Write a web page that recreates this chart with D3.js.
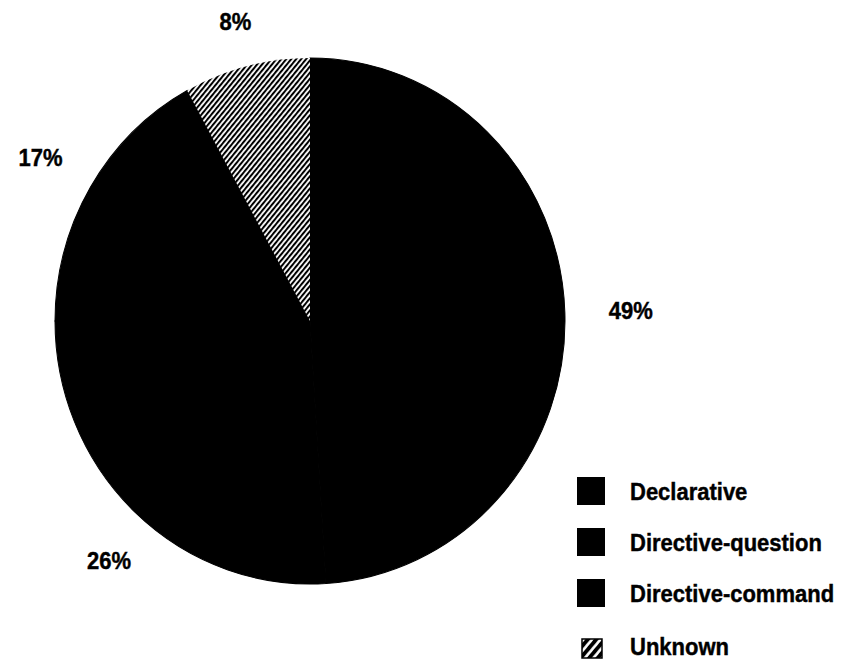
<!DOCTYPE html>
<html>
<head>
<meta charset="utf-8">
<script src="https://cdn.jsdelivr.net/npm/d3@7"></script>
<style>
  html, body { margin: 0; padding: 0; background: #fff; }
  svg { display: block; }
  text { font-family: "Liberation Sans", Arial, Helvetica, sans-serif; font-weight: bold; fill: #000; stroke: #000; stroke-width: 0.4px; }
</style>
</head>
<body>
<svg id="chart" width="847" height="663"></svg>
<script>
// Sentence types, share of utterances (%)
const categories = ["Declarative", "Directive-question", "Directive-command", "Unknown"];
const shares = [49, 26, 17, 8];
const percentLabels = ["49%", "26%", "17%", "8%"];

const W = 847, H = 663;
const cx = 310, cy = 321;      // pie centre
const rx = 255, ry = 263;      // slightly taller than wide
const labelRadius = [321, 307, 313, 300];
const labelTurn = [0, -0.04, 0, 0]; // small angular nudges (radians)
const textStretch = 1.12;           // lettering is a little tall

const svg = d3.select("#chart");
const defs = svg.append("defs");

// diagonal hatch for the "Unknown" slice
const hatch = defs.append("pattern")
  .attr("id", "hatch")
  .attr("patternUnits", "userSpaceOnUse")
  .attr("width", 3.8).attr("height", 10)
  .attr("patternTransform", "rotate(40)");
hatch.append("rect").attr("width", 3.8).attr("height", 10).attr("fill", "#fff");
hatch.append("rect").attr("width", 2.0).attr("height", 10).attr("fill", "#000");

// coarser hatch for the legend key
const hatchKey = defs.append("pattern")
  .attr("id", "hatchKey")
  .attr("patternUnits", "userSpaceOnUse")
  .attr("width", 6.5).attr("height", 10)
  .attr("patternTransform", "rotate(40)");
hatchKey.append("rect").attr("width", 6.5).attr("height", 10).attr("fill", "#000");
hatchKey.append("rect").attr("x", 2).attr("width", 2.6).attr("height", 10).attr("fill", "#fff");

const fills = ["#000", "#000", "#000", "url(#hatch)"];
const keyFills = ["#000", "#000", "#000", "url(#hatchKey)"];

const data = categories.map((c, i) => ({ name: c, value: shares[i], label: percentLabels[i], i }));

const pie = d3.pie().sort(null).value(d => d.value);
const arcs = pie(data);
const arc = d3.arc().innerRadius(0).outerRadius(rx);

const g = svg.append("g")
  .attr("transform", `translate(${cx},${cy}) scale(1,${ry / rx})`);

g.selectAll("path.slice")
  .data(arcs)
  .join("path")
  .attr("class", "slice")
  .attr("d", arc)
  .attr("fill", d => fills[d.data.i])
  // solid slices get a matching outline so no seam shows between them
  .attr("stroke", d => d.data.i === 3 ? "none" : "#000")
  .attr("stroke-width", 1);

// percentage labels outside the pie
const pct = svg.selectAll("g.pct")
  .data(arcs)
  .join("g")
  .attr("class", "pct")
  .attr("transform", d => {
    const a = (d.startAngle + d.endAngle) / 2 + labelTurn[d.data.i];
    const r = labelRadius[d.data.i];
    const x = cx + Math.sin(a) * r;
    const y = cy - Math.cos(a) * r * (ry / rx);
    return `translate(${x},${y}) scale(1,${textStretch})`;
  });
pct.append("text")
  .attr("dy", "0.36em")
  .attr("text-anchor", "middle")
  .attr("font-size", 22)
  .text(d => d.data.label);

// legend
const legend = svg.append("g").attr("transform", "translate(577,477)");
const rowGap = 51;
const rows = legend.selectAll("g.row")
  .data(data)
  .join("g")
  .attr("class", "row")
  .attr("transform", d => `translate(0,${d.i * rowGap + (d.i === 3 ? 2 : 0)})`);

rows.append("rect")
  .attr("x", d => d.i === 3 ? 5 : 0)
  .attr("y", d => d.i === 3 ? 7 : 0)
  .attr("width", d => d.i === 3 ? 20 : 28)
  .attr("height", d => d.i === 3 ? 19 : 28)
  .attr("fill", d => keyFills[d.i])
  .attr("stroke", d => d.i === 3 ? "#000" : "none")
  .attr("stroke-width", 1.5);

rows.append("g")
  .attr("transform", `translate(53,14) scale(1,${textStretch})`)
  .append("text")
  .attr("dy", "0.36em")
  .attr("font-size", 22)
  .text(d => d.name);
</script>
</body>
</html>
